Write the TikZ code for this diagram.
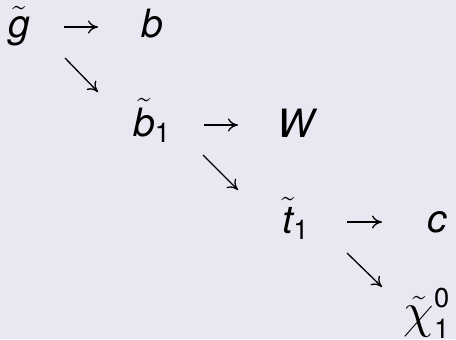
\documentclass[tikz,border=0pt]{standalone}
\usepackage{amsmath}
\usepackage{graphicx}
\usepackage{fontspec}
\setsansfont{TeX Gyre Heros}
\usetikzlibrary{arrows.meta}
\newcommand\sv[1]{\text{\sffamily\itshape #1}}
\newcommand\su[1]{\text{\sffamily #1}}
\newcommand\bigchi{\mbox{\fontsize{27}{30}\selectfont$\chi$}}
\definecolor{bg}{RGB}{232,232,242}
\tikzset{
  lbl/.style={anchor=base,inner sep=0pt,font=\fontsize{19.5}{23}\selectfont},
  arr/.style={line width=0.65pt,-{Computer Modern Rightarrow[length=5pt,width=6.5pt]}}
}
\begin{document}
\begin{tikzpicture}[x=1pt,y=1pt]
\fill[bg] (0,0) rectangle (228,169.5);
\useasboundingbox (0,0) rectangle (228,169.5);
\node[lbl] (g) at (9.5,151) {$\tilde{\sv{g}}$};
\node[lbl] (b) at (76.25,151) {$\sv{b}$};
\node[lbl] (b1) at (76,101.5) {$\tilde{\sv{b}}_{\su{1}}$};
\node[lbl] (W) at (147.75,101) {$\sv{W}$};
\node[lbl] (t1) at (148,53) {$\tilde{\sv{t}}_{\su{1}}$};
\node[lbl] (c) at (218.5,53.5) {$\sv{c}$};
\node[lbl] (chi) at (213.5,6) {$\tilde{\bigchi}^{\su{0}}_{\su{1}}$};
\coordinate (a1s) at (32,156);     \coordinate (a1e) at (49,156);
\coordinate (d1s) at (32.5,140.5); \coordinate (d1e) at (49,123.5);
\coordinate (a2s) at (102,107);    \coordinate (a2e) at (119,107);
\coordinate (d2s) at (101.5,92);   \coordinate (d2e) at (119,74.5);
\coordinate (a3s) at (173.5,58.5); \coordinate (a3e) at (191,58.5);
\coordinate (d3s) at (173.5,43);   \coordinate (d3e) at (191,26);
\draw[arr] (a1s) -- (a1e);
\draw[arr] (d1s) -- (d1e);
\draw[arr] (a2s) -- (a2e);
\draw[arr] (d2s) -- (d2e);
\draw[arr] (a3s) -- (a3e);
\draw[arr] (d3s) -- (d3e);
\end{tikzpicture}
\end{document}
